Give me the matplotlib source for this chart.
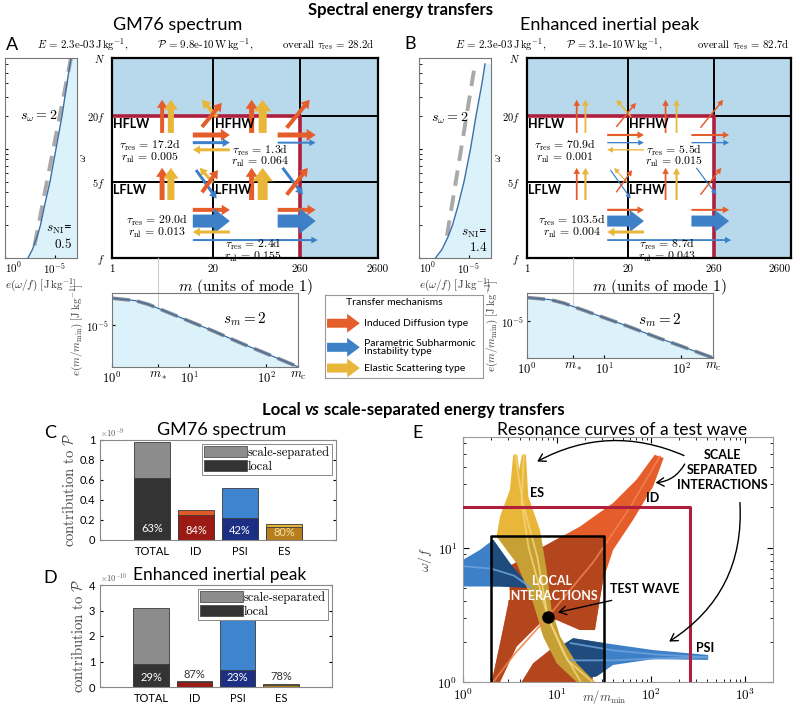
import numpy as np
import matplotlib
matplotlib.use('Agg')
import matplotlib.pyplot as plt
from matplotlib.patches import FancyArrowPatch, Polygon, Rectangle, ArrowStyle, Patch
from matplotlib.ticker import FuncFormatter, NullFormatter

plt.rcParams['mathtext.fontset'] = 'cm'
plt.rcParams['font.family'] = 'Lato'
plt.rcParams['axes.linewidth'] = 0.8

W, H = 800, 708
WMAX = 68.0  # N/f

# ---------------- data ----------------
# left spectra e(omega/f), log10 values
wA = [1.0, 1.2, 1.56, 2.0, 3.0, 5.0, 10.0, 20.0, 40.0, 68.0]
eA = [-2.3, -2.75, -3.2, -3.55, -3.95, -4.5, -5.1, -5.7, -6.2, -6.6]
dashA_w = [1.3, 68.0]
dashA_e = [-2.95, -6.6]
wB = [1.0, 1.2, 1.56, 2.0, 3.0, 5.0, 10.0, 20.0, 40.0, 60.0]
eB = [-1.65, -2.3, -2.9, -3.35, -3.9, -4.5, -5.15, -5.7, -6.3, -6.6]
dashB_w = [1.6, 60.0]
dashB_e = [-2.8, -5.6]

# vertical spectrum e(m/m_min), log10 values
m_low = [1, 2, 3, 4, 6, 10, 20, 50, 100, 260]
e_low = [-3.3, -3.45, -3.7, -3.95, -4.3, -4.75, -5.35, -6.2, -6.8, -7.65]

# transfer arrows: mechanism, m0, w0, m1, w1
arrow_mech = ['ID', 'ES', 'ID', 'ES', 'ID', 'ES', 'ID', 'ES',
              'ES', 'ID', 'ID',
              'PSI', 'ES', 'ID', 'PSI', 'ID',
              'ID', 'PSI', 'ES', 'ID', 'PSI',
              'ID', 'PSI', 'ES', 'PSI', 'ID', 'PSI']
arrow_m0 = [4.4, 5.7, 62, 86, 4.4, 5.7, 62, 86,
            22.2, 14.3, 175,
            12, 19.8, 14.3, 155, 175,
            10.9, 10.9, 32.6, 134, 134,
            10.9, 10.9, 32.6, 10.9, 134, 134]
arrow_w0 = [14.0, 14.0, 14.0, 14.0, 3.4, 3.4, 3.4, 3.4,
            19.7, 15.9, 15.6,
            6.4, 4.9, 4.0, 6.7, 3.8,
            13.4, 11.4, 9.8, 13.4, 11.4,
            2.76, 2.18, 1.73, 1.46, 2.76, 2.18]
arrow_m1 = [4.4, 5.7, 62, 86, 4.4, 5.7, 62, 86,
            14.3, 25.7, 345,
            22, 13.4, 22.9, 282, 326,
            32.6, 32.6, 10.9, 412, 412,
            32.6, 32.6, 10.9, 437, 412, 412]
arrow_w1 = [28.2, 28.2, 28.2, 28.2, 6.7, 6.7, 6.7, 6.7,
            28.2, 26.4, 28.2,
            3.5, 6.7, 6.4, 3.8, 6.7,
            13.4, 11.4, 9.8, 13.4, 11.4,
            2.76, 2.18, 1.73, 1.46, 2.76, 2.18]
# arrow thickness (px) for panel A and B
widthA = [4, 6, 5, 8, 5, 7, 5, 10,
          4, 4, 4,
          3, 3, 4, 3, 4,
          5, 3, 3, 5, 2,
          4, 13, 3, 2, 4, 13]
widthB = [1.8, 1.8, 1.8, 1.8, 1.8, 2.2, 1.8, 2.2,
          1.5, 1.5, 1.5,
          1.2, 1.2, 1.5, 1.2, 1.5,
          2.2, 1.3, 1.3, 2.0, 1.3,
          2.2, 11, 3, 1.8, 2.0, 11]

headerA = ['$E\\,=\\,2.3$e-03$\\,\\mathrm{J\\,kg^{-1}},$',
           '$\\mathcal{P}\\,=\\,9.8$e-10$\\,\\mathrm{W\\,kg^{-1}},$',
           'overall $\\tau_{\\rm res}\\,=\\,28.2$d']
headerB = ['$E\\,=\\,2.3$e-03$\\,\\mathrm{J\\,kg^{-1}},$',
           '$\\mathcal{P}\\,=\\,3.1$e-10$\\,\\mathrm{W\\,kg^{-1}},$',
           'overall $\\tau_{\\rm res}\\,=\\,82.7$d']
tauA = ['17.2d', '1.3d', '29.0d', '2.4d']
rnlA = ['0.005', '0.064', '0.013', '0.155']
tauB = ['70.9d', '5.5d', '103.5d', '8.7d']
rnlB = ['0.001', '0.015', '0.004', '0.043']
tau_m = [3.1, 79, 3.8, 64]
tau_w = [9.4, 8.6, 1.95, 1.17]

# bar charts
cats = ['TOTAL', 'ID', 'PSI', 'ES']
c_total = [0.98, 0.30, 0.52, 0.16]   # x 1e-9
c_local = [0.62, 0.255, 0.22, 0.13]
c_pct = ['63%', '84%', '42%', '80%']
d_total = [3.1, 0.22, 2.85, 0.10]    # x 1e-10
d_local = [0.90, 0.19, 0.65, 0.08]
d_pct = ['29%', '87%', '23%', '78%']

# resonance curves (m/m_min, omega/f)
id_main = [(2.02, 1.0), (2.48, 1.94), (3.04, 3.86), (3.30, 7.46), (7.16, 10.2),
           (17.6, 14.4), (39.7, 21.6), (70.4, 32.2), (110, 49.4), (137, 46.7),
           (106, 28.7), (64.9, 16.2), (39.7, 9.66), (31.1, 5.77), (27.5, 3.45),
           (25.4, 2.44), (17.6, 2.44), (9.93, 2.90), (6.59, 2.74), (3.72, 1.84),
           (2.48, 1.0)]
id_lobe = [(4.21, 1.0), (5.60, 1.38), (8.43, 1.73), (14.9, 1.94), (24.4, 1.94),
           (26.4, 1.38), (23.4, 1.0)]
es_band = [(3.43, 49.4), (3.78, 49.4), (3.97, 38.2), (4.24, 49.4), (4.68, 49.4),
           (4.95, 24.2), (6.59, 13.6), (7.77, 6.85), (8.77, 3.45), (10.8, 2.18),
           (16.2, 1.38), (25.4, 1.0), (16.2, 1.0), (9.93, 1.38), (7.16, 2.18),
           (5.60, 3.86), (3.72, 7.69), (2.28, 12.2), (2.48, 17.1), (3.16, 27.1)]
psi_left = [(1.0, 8.13), (1.52, 9.66), (2.10, 11.5), (3.16, 7.69), (5.38, 5.0),
            (2.48, 5.15), (1.52, 5.15), (1.0, 5.15)]
psi_right = [(10.8, 1.84), (14.9, 2.12), (33.7, 1.94), (106, 1.73), (407, 1.59),
             (407, 1.46), (106, 1.48), (39.7, 1.34), (26.4, 1.10), (17.6, 1.06),
             (12.7, 1.38)]
# lighter centre lines of the resonance bands
es_lines = [[(3.6, 49.4), (4.3, 22), (6.2, 8.5), (8.0, 3.05), (11.5, 1.7), (18, 1.0)],
            [(4.45, 49.4), (4.2, 22), (5.0, 10), (8.0, 3.05), (13, 1.45), (24, 1.0)]]
psi_lines = [[(14, 1.95), (40, 1.72), (120, 1.6), (400, 1.53)],
             [(13, 1.45), (40, 1.45), (120, 1.5), (400, 1.53)],
             [(1.0, 7.3), (2.0, 7.0), (3.5, 6.2), (5.3, 5.05)]]
id_lines = [[(2.1, 1.0), (3.5, 1.6), (8.0, 3.05), (25, 8.0), (60, 20), (125, 48)]]
test_wave = (8.0, 3.05)

# ---------------- style ----------------
C_ID, C_PSI, C_ES = '#e55d2b', '#3d80c8', '#e8b638'
MECH = {'ID': C_ID, 'PSI': C_PSI, 'ES': C_ES}
SHADE = '#b7d9eb'
RED = '#b01e3e'
FILL = '#dcf2fa'
CURVE = '#3a6ea5'
SERIF = 'cmr10'

fig = plt.figure(figsize=(8, 7.08), dpi=100)
renderer = fig.canvas.get_renderer()


def px_axes(x0, y0, x1, y1):
    return fig.add_axes([x0 / W, 1 - y1 / H, (x1 - x0) / W, (y1 - y0) / H])


def ftext(x, y, s, **kw):
    return fig.text(x / W, 1 - y / H, s, **kw)


def text_row(x, y, pieces, **kw):
    # place several text pieces one after another, starting at pixel x
    for s, extra in pieces:
        t = ftext(x, y, s, ha='left', va='center', **kw, **extra)
        bb = t.get_window_extent(renderer)
        x = x + bb.width


def arrow(ax, p0, p1, color, wpx, transform=None):
    tw = wpx * 0.72
    hw = (wpx * 1.7 + 3.5) * 0.72
    hl = (wpx * 0.9 + 4.5) * 0.72
    st = ArrowStyle.Simple(head_length=hl, head_width=hw, tail_width=tw)
    kw = {} if transform is None else {'transform': transform}
    a = FancyArrowPatch(p0, p1, arrowstyle=st, mutation_scale=1, color=color,
                        lw=0, shrinkA=0, shrinkB=0, zorder=4, **kw)
    ax.add_patch(a)


def draw_left(ax, w, e, dw, de, s_pos, ni_pos, ni_val):
    ax.set_xscale('log')
    ax.set_yscale('log')
    ax.fill_betweenx(w, 10.0 ** np.array(e), 1e-9, color=FILL, lw=0)
    ax.plot(10.0 ** np.array(de), dw, color='#a9a9a9', lw=2.8, dashes=(4, 2.5))
    ax.plot(10.0 ** np.array(e), w, color=CURVE, lw=1)
    ax.set_xlim(1, 10 ** -7.2)
    ax.set_ylim(1, WMAX)
    ax.set_xticks([1, 1e-5])
    labs = ax.set_xticklabels(['$10^0$', '$10^{-5}$'], fontsize=8)
    labs[0].set_horizontalalignment('left')
    ax.xaxis.set_minor_formatter(NullFormatter())
    ax.tick_params(which='both', direction='in', labelleft=False, length=2.5, pad=2)
    ax.tick_params(axis='x', which='minor', length=0)
    ax.set_xlabel('$e(\\omega/f)\\ [\\mathrm{J\\,kg^{-1}}]$', fontsize=8, labelpad=1,
                  color='#333333')
    for s in ax.spines.values():
        s.set_color('#777777')
    ax.text(*s_pos, '$s_\\omega = 2$', transform=ax.transAxes, ha='center',
            va='center', fontsize=10)
    ax.text(ni_pos[0], ni_pos[1], '$s_{\\rm NI}$=', transform=ax.transAxes,
            ha='right', va='center', fontsize=9.5)
    ax.text(ni_pos[0], ni_pos[1] - 0.065, '$' + ni_val + '$', transform=ax.transAxes,
            ha='right', va='center', fontsize=9.5)


def draw_grid(ax, widths, taus, rnls, last_ha):
    ax.set_xscale('log')
    ax.set_yscale('log')
    ax.set_xlim(1, 2600)
    ax.set_ylim(1, WMAX)
    ax.set_facecolor(SHADE)
    ax.fill_between([1, 260], 1, 20, color='white', lw=0, zorder=0.5)
    ax.plot([20, 20], [1, WMAX], color='k', lw=1.4, zorder=1)
    ax.plot([260, 260], [20, WMAX], color='k', lw=1.4, zorder=1)
    ax.plot([1, 2600], [5, 5], color='k', lw=1.4, zorder=1)
    ax.plot([260, 2600], [20, 20], color='k', lw=1.4, zorder=1)
    ax.plot([1, 260, 260], [20, 20, 1], color=RED, lw=2.6, zorder=2)
    for s in ax.spines.values():
        s.set_linewidth(1.6)
    ax.minorticks_off()
    ax.set_xticks([1, 20, 260, 2600])
    labs = ax.set_xticklabels(['1', '20', '260', '2600'], fontfamily=SERIF, fontsize=8)
    labs[-1].set_horizontalalignment(last_ha)
    ax.set_yticks([1, 5, 20, WMAX])
    ax.set_yticklabels(['$f$', '$5f$', '$20f$', '$N$'], fontsize=7.5)
    ax.tick_params(length=0, pad=5)
    ax.set_xlabel('$m$ (units of mode 1)', fontfamily=SERIF, fontsize=11, labelpad=2)
    ax.set_ylabel('$\\omega$', fontsize=8, rotation=90)
    ax.yaxis.set_label_coords(-0.09, 0.5)
    for lab, mm, ww in zip(['HFLW', 'HFHW', 'LFLW', 'LFHW'],
                           [1.04, 20.8, 1.04, 20.8], [17.0, 17.0, 4.2, 4.2]):
        ax.text(mm, ww, lab, fontsize=9, fontweight='bold', va='center', ha='left',
                zorder=5)
    for i in range(len(arrow_mech)):
        arrow(ax, (arrow_m0[i], arrow_w0[i]), (arrow_m1[i], arrow_w1[i]),
              MECH[arrow_mech[i]], widths[i])
    for t, r, mm, ww in zip(taus, rnls, tau_m, tau_w):
        ax.text(mm, ww, '$\\tau_{\\rm res}\\,=\\,' + t.replace('d', '{\\rm d}') + '$\n'
                '$r_{\\rm nl}\\,=\\,' + r + '$', ha='center', va='center',
                fontsize=8.5, linespacing=0.78, zorder=5)


def draw_low(ax, s_pos, ext):
    ax.set_xscale('log')
    ax.set_yscale('log')
    ee = 10.0 ** np.array(e_low)
    ax.fill_between(m_low, ee, 1e-10, color=FILL, lw=0)
    ax.plot(m_low, ee, color='#8c8c8c', lw=2.6, dashes=(5, 2))
    ax.plot(m_low, ee, color=CURVE, lw=0.9)
    ax.set_xlim(1, 260)
    ax.set_ylim(10 ** -7.66, 10 ** -2.97)
    ax.set_xticks([1, 4, 10, 100, 260])
    ax.set_xticklabels(['$10^0$', '$m_*$', '$10^1$', '$10^2$', '$m_c$'], fontsize=9)
    ax.set_yticks([1e-5])
    ax.set_yticklabels(['$10^{-5}$'], fontsize=8)
    ax.xaxis.set_minor_formatter(NullFormatter())
    ax.yaxis.set_minor_formatter(NullFormatter())
    ax.tick_params(which='both', direction='in', length=2.5, pad=2)
    ax.tick_params(axis='x', which='minor', length=0)
    for s in ax.spines.values():
        s.set_color('#777777')
    ax.axvline(4, 0, ext, color='#cccccc', lw=0.8, clip_on=False, zorder=0.8)
    ax.set_ylabel('$e(m/m_{\\rm min})\\ [\\mathrm{J\\,kg^{-1}}]$', fontsize=8,
                  labelpad=0, color='#444444')
    ax.text(*s_pos, '$s_m = 2$', transform=ax.transAxes, ha='center', va='center',
            fontsize=11)


# ---------------- top section ----------------
ftext(400, 10, 'Spectral energy transfers', ha='center', va='center', fontsize=12,
      fontweight='bold')
ftext(178, 25, 'GM76 spectrum', ha='center', va='center', fontsize=13)
ftext(610, 25, 'Enhanced inertial peak', ha='center', va='center', fontsize=13)
ftext(12, 45, 'A', ha='center', va='center', fontsize=13)
ftext(410, 44, 'B', ha='center', va='center', fontsize=13)
for s, x in zip(headerA, [37, 157, 282]):
    ftext(x, 45, s, ha='left', va='center', fontsize=7.8, fontfamily=SERIF)
for s, x in zip(headerB, [455, 566, 697]):
    ftext(x, 45, s, ha='left', va='center', fontsize=7.8, fontfamily=SERIF)

axAl = px_axes(5, 58, 77, 258)
draw_left(axAl, wA, eA, dashA_w, dashA_e, (0.47, 0.71), (0.93, 0.14), '0.5')
axA = px_axes(112, 58, 378, 258)
draw_grid(axA, widthA, tauA, rnlA, 'center')
axAd = px_axes(112, 293, 298, 367)
draw_low(axAd, (0.715, 0.64), 1 + 35 / 74)

axBl = px_axes(419, 58, 491, 258)
draw_left(axBl, wB, eB, dashB_w, dashB_e, (0.43, 0.70), (0.95, 0.12), '1.4')
axB = px_axes(527, 58, 791, 258)
draw_grid(axB, widthB, tauB, rnlB, 'right')
axBd = px_axes(527, 293, 713, 358)
draw_low(axBd, (0.715, 0.58), 1 + 35 / 65)

# transfer mechanisms legend
axL = px_axes(325, 295, 483, 378)
axL.set_xlim(0, 1)
axL.set_ylim(0, 1)
axL.set_xticks([])
axL.set_yticks([])
for s in axL.spines.values():
    s.set_color('#999999')
axL.text(0.13, 0.91, 'Transfer mechanisms', fontsize=7.5, va='center', ha='left')
for yy, c, lab in zip([0.66, 0.37, 0.12], [C_ID, C_PSI, C_ES],
                      ['Induced Diffusion type',
                       'Parametric Subharmonic\nInstability type',
                       'Elastic Scattering type']):
    arrow(axL, (0.013, yy), (0.22, yy), c, 9, transform=axL.transAxes)
    axL.text(0.25, yy, lab, fontsize=7.5, va='center', ha='left', linespacing=0.9)

# ---------------- bottom section ----------------
text_row(262, 410, [('Local ', {}), ('vs', {'fontstyle': 'italic'}),
                    (' scale-separated energy transfers', {})],
         fontsize=12, fontweight='bold')

top_cols = ['#8c8c8c', '#e05a28', '#3f84cf', '#e3b33a']
loc_cols = ['#333333', '#9c1a14', '#1c2f82', '#b67e1e']


def draw_bars(ax, total, local, pct, inside, ymax, ystep, power, lab_y):
    x = np.arange(1, 5)
    ax.bar(x, total, width=0.82, color=top_cols, edgecolor='#3a3a3a', lw=0.6)
    ax.bar(x, local, width=0.82, color=loc_cols, edgecolor='#3a3a3a', lw=0.6)
    ax.set_xlim(-0.18, 5.18)
    ax.set_ylim(0, ymax)
    ax.set_yticks(np.arange(0, ymax + 1e-9, ystep))
    ax.yaxis.set_major_formatter(FuncFormatter(lambda v, p: '%g' % round(v, 3)))
    ax.set_xticks(x)
    ax.set_xticklabels(cats, fontsize=8)
    ax.tick_params(labelsize=8, direction='in', length=2.5, top=False, right=True)
    ax.tick_params(axis='x', length=0, pad=4)
    for s in ax.spines.values():
        s.set_color('#888888')
    ax.set_ylabel('contribution to $\\mathcal{P}$', fontfamily=SERIF, fontsize=10.5,
                  labelpad=2, color='#444444')
    ax.text(0.0, 1.01, '$\\times10^{' + power + '}$', transform=ax.transAxes,
            fontsize=6, ha='left', va='bottom', color='#555555')
    for i in range(4):
        if inside[i]:
            col = '#f3e3a0' if i == 3 else 'white'
        else:
            col = '#333333'
        ax.text(x[i], lab_y[i], pct[i], ha='center', va='center', fontsize=8,
                color=col)
    hs = [Patch(facecolor='#8c8c8c', edgecolor='#3a3a3a', lw=0.5),
          Patch(facecolor='#333333', edgecolor='#3a3a3a', lw=0.5)]
    lg = ax.legend(hs, ['scale-separated', 'local'], loc='upper right',
                   prop={'family': SERIF, 'size': 9}, handlelength=3.4,
                   handleheight=1.0, handletextpad=0.1, labelspacing=0.05,
                   borderpad=0.2, borderaxespad=0.3, fancybox=False, framealpha=1)
    lg.get_frame().set_edgecolor('#888888')
    lg.get_frame().set_linewidth(0.7)


ftext(50, 433, 'C', ha='center', va='center', fontsize=13)
ftext(222, 430, 'GM76 spectrum', ha='center', va='center', fontsize=13)
axC = px_axes(100, 440, 336, 540)
draw_bars(axC, c_total, c_local, c_pct, [True] * 4, 1.0, 0.2, '-9',
          [0.11, 0.09, 0.09, 0.07])

ftext(50, 578, 'D', ha='center', va='center', fontsize=13)
ftext(220, 575, 'Enhanced inertial peak', ha='center', va='center', fontsize=12.5)
axD = px_axes(100, 585, 332, 687)
draw_bars(axD, d_total, d_local, d_pct, [True, False, True, False], 4.0, 1.0, '-10',
          [0.38, 0.5, 0.38, 0.4])

# ---------------- panel E ----------------
ftext(418, 433, 'E', ha='center', va='center', fontsize=13)
ftext(622, 430, 'Resonance curves of a test wave', ha='center', va='center',
      fontsize=12.5)
axE = px_axes(463, 437, 773, 682)
axE.set_xscale('log')
axE.set_yscale('log')
axE.set_xlim(1, 2000)
axE.set_ylim(1, 67)

box = Rectangle((2, 1), 29.6, 11.3, transform=axE.transData)
shapes = [(id_main, C_ID, '#b4461d'), (id_lobe, C_ID, '#b4461d'),
          (psi_left, C_PSI, '#1f4c7c'), (psi_right, C_PSI, '#1f4c7c'),
          (es_band, C_ES, '#c6a035')]
for pts, c, dark in shapes:
    axE.add_patch(Polygon(pts, closed=True, facecolor=c, edgecolor='none', zorder=2))
    pd = Polygon(pts, closed=True, facecolor=dark, edgecolor='none', zorder=2.1)
    axE.add_patch(pd)
    pd.set_clip_path(box)
for group, lc in [(id_lines, '#f0814f'), (psi_lines, '#6ea3da'), (es_lines, '#f3d47a')]:
    for ln in group:
        xs, ys = zip(*ln)
        axE.plot(xs, ys, color=lc, lw=1.3, alpha=0.85, zorder=2.2)

axE.plot([1, 260, 260], [20, 20, 1], color=RED, lw=2.2, zorder=3)
axE.plot([2, 2, 31.6, 31.6], [1, 12.3, 12.3, 1], color='k', lw=1.8, zorder=3)
axE.plot(*test_wave, 'o', color='k', ms=8, zorder=5)

axE.text(6.1, 25.8, 'ES', fontsize=9, fontweight='bold', ha='center', va='center')
axE.text(105, 23.6, 'ID', fontsize=9, fontweight='bold', ha='center', va='center')
axE.text(375, 1.8, 'PSI', fontsize=9, fontweight='bold', ha='center', va='center')
axE.text(583, 38.2, 'SCALE\nSEPARATED\nINTERACTIONS', fontsize=9, fontweight='bold',
         ha='center', va='center', linespacing=1.3)
axE.text(8.85, 5.0, 'LOCAL\nINTERACTIONS', fontsize=9, fontweight='bold',
         ha='center', va='center', color='white', linespacing=1.3, zorder=6)
axE.text(86, 4.9, 'TEST WAVE', fontsize=9, fontweight='bold', ha='center',
         va='center', zorder=6)
ap = dict(arrowstyle='->,head_length=0.5,head_width=0.3', color='k', lw=1)
axE.annotate('', xy=(9.6, 3.27), xytext=(41, 4.1), arrowprops=ap, zorder=6)
axE.annotate('', xy=(5.8, 43), xytext=(240, 47.8),
             arrowprops=dict(ap, connectionstyle='arc3,rad=0.25'), zorder=6)
axE.annotate('', xy=(105, 30.5), xytext=(237, 43.9),
             arrowprops=dict(ap, connectionstyle='arc3,rad=-0.3'), zorder=6)
axE.annotate('', xy=(148, 1.95), xytext=(885, 22.8),
             arrowprops=dict(ap, connectionstyle='arc3,rad=-0.3'), zorder=6)

axE.set_xticks([1, 10, 100, 1000])
axE.set_xticklabels(['$10^0$', '$10^1$', '$10^2$', '$10^3$'], fontsize=9.5)
axE.set_yticks([1, 10])
axE.set_yticklabels(['$10^0$', '$10^1$'], fontsize=9.5)
axE.xaxis.set_minor_formatter(NullFormatter())
axE.yaxis.set_minor_formatter(NullFormatter())
axE.tick_params(which='both', direction='in', top=True, right=True)
axE.tick_params(axis='x', pad=3)
axE.tick_params(axis='y', pad=4)
axE.tick_params(which='major', length=4)
axE.tick_params(which='minor', length=2)
for s in axE.spines.values():
    s.set_color('#999999')
axE.set_xlabel('$m/m_{\\rm min}$', fontsize=9, color='#444444')
axE.xaxis.set_label_coords(0.455, -0.025)
axE.set_ylabel('$\\omega/f$', fontsize=10, color='#444444')
axE.yaxis.set_label_coords(-0.095, 0.5)

fig.savefig('out.png', dpi=100)
